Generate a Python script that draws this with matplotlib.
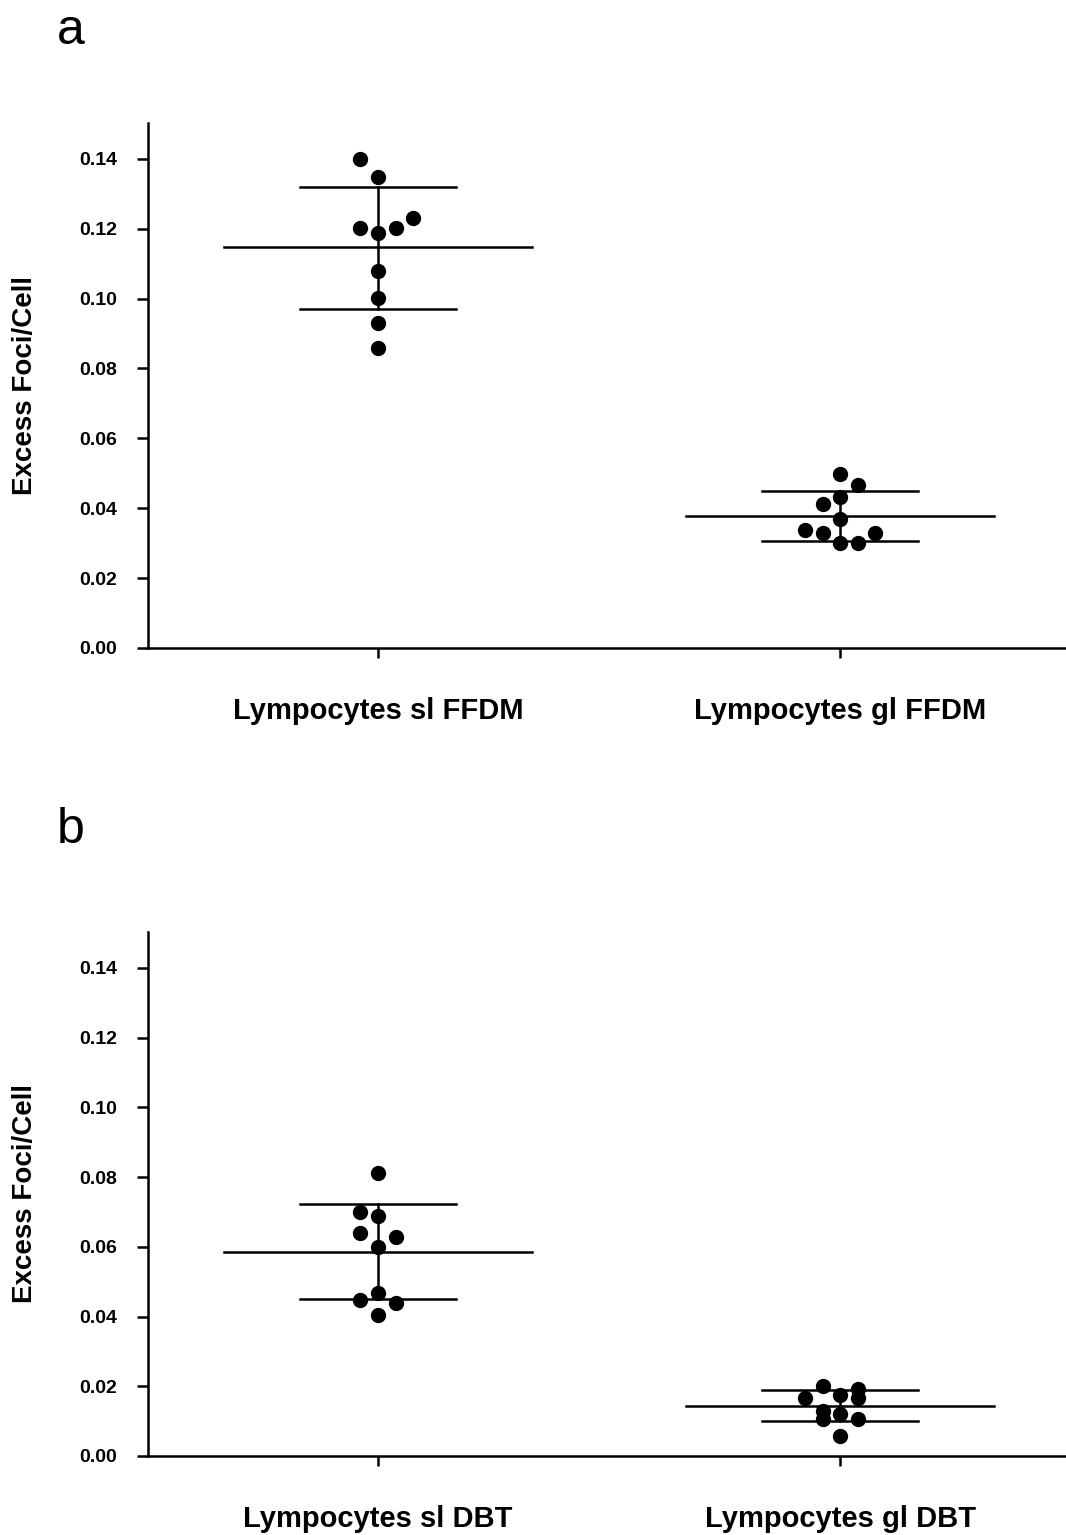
import matplotlib
matplotlib.use("Agg")
import matplotlib.pyplot as plt
import numpy as np

plt.rcParams['font.family'] = ['Liberation Sans', 'DejaVu Sans']

# panel a: FFDM
cats_a = ["Lympocytes sl FFDM", "Lympocytes gl FFDM"]
sl_ffdm = [0.1400, 0.1348, 0.1202, 0.1188, 0.1202, 0.1231, 0.1079, 0.1002, 0.0930, 0.0859]
sl_ffdm_off = [-1, 0, -1, 0, 1, 2, 0, 0, 0, 0]
gl_ffdm = [0.0498, 0.0467, 0.0432, 0.0412, 0.0369, 0.0338, 0.0329, 0.0329, 0.0301, 0.0301]
gl_ffdm_off = [0, 1, 0, -1, 0, -2, -1, 2, 0, 1]
mean_a = [0.1148, 0.0378]
sd_lo_a = [0.0970, 0.0306]
sd_hi_a = [0.1320, 0.0449]

# panel b: DBT
cats_b = ["Lympocytes sl DBT", "Lympocytes gl DBT"]
sl_dbt = [0.0812, 0.0700, 0.0688, 0.0640, 0.0628, 0.0600, 0.0468, 0.0448, 0.0439, 0.0404]
sl_dbt_off = [0, -1, 0, -1, 1, 0, 0, -1, 1, 0]
gl_dbt = [0.0201, 0.0166, 0.0175, 0.0192, 0.0166, 0.0129, 0.0106, 0.0120, 0.0106, 0.0057]
gl_dbt_off = [-1, -2, 0, 1, 1, -1, -1, 0, 1, 0]
mean_b = [0.0586, 0.0144]
sd_lo_b = [0.0450, 0.0101]
sd_hi_b = [0.0722, 0.0189]

yticks = [0.00, 0.02, 0.04, 0.06, 0.08, 0.10, 0.12, 0.14]

fig = plt.figure(figsize=(10.66, 15.35), dpi=100)
ax_a = fig.add_axes([0.1388, 0.5779, 0.8612, 0.342])
ax_b = fig.add_axes([0.1388, 0.0515, 0.8612, 0.3413])

step = 0.038


def draw(ax, cats, groups, offs, means, lo, hi):
    for i, (vals, off) in enumerate(zip(groups, offs)):
        xs = i + np.array(off) * step
        ax.plot(xs, vals, 'o', color='black', markersize=10, zorder=3)
        ax.plot([i - 0.333, i + 0.333], [means[i], means[i]], color='black', lw=1.8)
        ax.plot([i - 0.169, i + 0.169], [lo[i], lo[i]], color='black', lw=1.8)
        ax.plot([i - 0.169, i + 0.169], [hi[i], hi[i]], color='black', lw=1.8)
        ax.plot([i, i], [lo[i], hi[i]], color='black', lw=1.8)
    ax.set_xlim(-0.498, 1.489)
    ax.set_ylim(0, 0.1503)
    ax.set_xticks([0, 1])
    ax.set_xticklabels(cats, fontsize=21, fontweight='bold')
    ax.set_yticks(yticks)
    ax.set_yticklabels(["%.2f" % t for t in yticks], fontsize=14, fontweight='bold')
    ax.set_ylabel("Excess Foci/Cell", fontsize=20, fontweight='bold', labelpad=30)
    ax.spines['top'].set_visible(False)
    ax.spines['right'].set_visible(False)
    ax.spines['left'].set_linewidth(1.8)
    ax.spines['bottom'].set_linewidth(1.8)
    ax.tick_params(axis='y', length=8, width=1.8, pad=14)
    ax.tick_params(axis='x', length=7, width=1.8, pad=28)


draw(ax_a, cats_a, [sl_ffdm, gl_ffdm], [sl_ffdm_off, gl_ffdm_off], mean_a, sd_lo_a, sd_hi_a)
draw(ax_b, cats_b, [sl_dbt, gl_dbt], [sl_dbt_off, gl_dbt_off], mean_b, sd_lo_b, sd_hi_b)

fig.text(0.066, 0.980, "a", fontsize=36, ha='center', va='center')
fig.text(0.066, 0.459, "b", fontsize=36, ha='center', va='center')

fig.savefig("out.png", dpi=100)
